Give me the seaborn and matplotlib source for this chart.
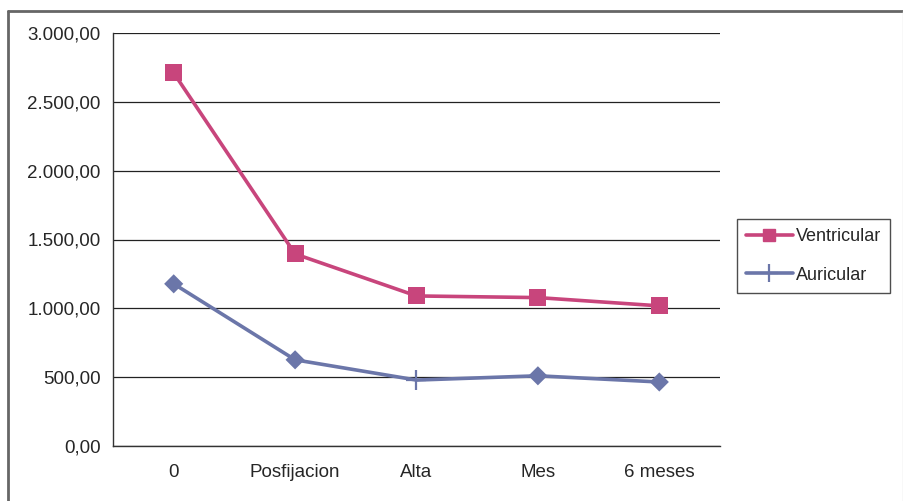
import matplotlib
matplotlib.use("Agg")
import matplotlib.pyplot as plt
import matplotlib.ticker as mticker
from matplotlib.lines import Line2D
import seaborn as sns
import pandas as pd

# --- datos ---
categorias = ["0", "Posfijacion", "Alta", "Mes", "6 meses"]
ventricular = [2710, 1395, 1090, 1078, 1018]
auricular = [1178, 626, 479, 510, 465]
marcadores_auricular = ["D", "D", "+", "D", "D"]

col_v = "#C8457C"
col_a = "#6B76A9"

df = pd.DataFrame({
    "pos": list(range(len(categorias))) * 2,
    "valor": ventricular + auricular,
    "serie": ["Ventricular"] * len(categorias) + ["Auricular"] * len(categorias),
    "marca": ["s"] * len(categorias) + marcadores_auricular,
})

sns.set_style("white")
plt.rcParams["font.family"] = ["Liberation Sans", "DejaVu Sans"]

fig = plt.figure(figsize=(9.04, 5.01), dpi=100)
ax = fig.add_axes([113 / 904, 55 / 501, 607 / 904, 413 / 501])

paleta = {"Ventricular": col_v, "Auricular": col_a}
sns.lineplot(data=df, x="pos", y="valor", hue="serie", palette=paleta,
             linewidth=2.6, legend=False, ax=ax, zorder=3)

# marcadores: cuadrados, rombos y la cruz suelta de "Alta"
for marca, tam, lw in [("s", 150, 0), ("D", 95, 0), ("+", 220, 1.6)]:
    sub = df[df["marca"] == marca]
    sns.scatterplot(data=sub, x="pos", y="valor", hue="serie", palette=paleta,
                    marker=marca, s=tam, linewidth=lw, legend=False, ax=ax, zorder=4)

ax.set_xlim(-0.5, len(categorias) - 0.5)
ax.set_ylim(0, 3000)
ax.yaxis.set_major_locator(mticker.MultipleLocator(500))
ax.yaxis.set_major_formatter(mticker.FuncFormatter(
    lambda v, p: f"{v:,.2f}".replace(",", "X").replace(".", ",").replace("X", ".")))

# ticks en los bordes de categoria, etiquetas en el centro
ax.set_xticks([i - 0.5 for i in range(len(categorias) + 1)])
ax.set_xticklabels([])
ax.set_xticks(range(len(categorias)), minor=True)
ax.set_xticklabels(categorias, minor=True)
ax.tick_params(axis="x", which="major", direction="out", length=6, width=1, color="#333333")
ax.tick_params(axis="x", which="minor", length=0, pad=13, labelsize=13.5)
ax.tick_params(axis="y", direction="out", length=7, width=1, color="#333333", labelsize=13.5, pad=2)
ax.set_xlabel("")
ax.set_ylabel("")

ax.grid(axis="y", color="#222222", linewidth=0.9)
ax.set_axisbelow(True)
for s in ["top", "right"]:
    ax.spines[s].set_visible(False)
for s in ["left", "bottom"]:
    ax.spines[s].set_color("#333333")
    ax.spines[s].set_linewidth(1)

handles = [
    Line2D([0], [0], color=col_v, lw=2.6, marker="s", markersize=9, label="Ventricular"),
    Line2D([0], [0], color=col_a, lw=2.6, marker="+", markersize=13, markeredgewidth=1.6, label="Auricular"),
]
leg = fig.legend(handles=handles, loc="upper left", bbox_to_anchor=(737 / 904, 1 - 219 / 501),
                 frameon=True, fancybox=False, edgecolor="#222222", fontsize=13,
                 handlelength=2.6, handletextpad=0.15, labelspacing=1.2, borderpad=0.5,
                 borderaxespad=0)
leg.get_frame().set_linewidth(1)

# marco exterior
fig.add_artist(Line2D([8 / 904, 903 / 904], [1 - 10.5 / 501, 1 - 10.5 / 501],
                      color="#666666", lw=2, transform=fig.transFigure))
fig.add_artist(Line2D([8 / 904, 8 / 904], [0, 1 - 10.5 / 501],
                      color="#666666", lw=2, transform=fig.transFigure))
fig.add_artist(Line2D([903 / 904, 903 / 904], [0, 1 - 10.5 / 501],
                      color="#dddddd", lw=1, transform=fig.transFigure))

fig.savefig("out.png", dpi=100)
